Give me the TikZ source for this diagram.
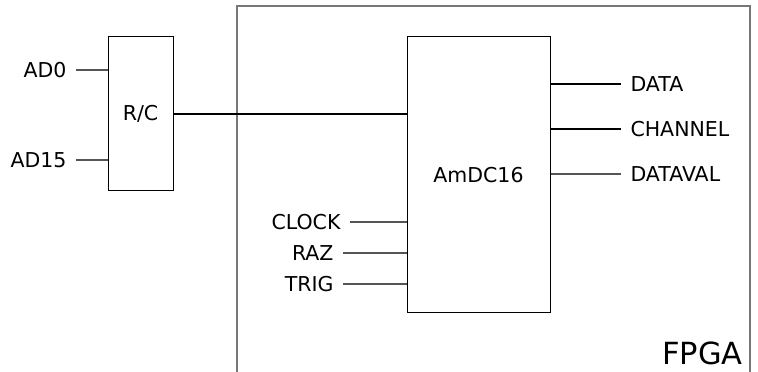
\documentclass[tikz,border=0pt]{standalone}
\usepackage{fontspec}
\setmainfont{DejaVu Sans}
\usetikzlibrary{positioning}
\definecolor{wire}{HTML}{555555}
\definecolor{frame}{HTML}{777777}

\begin{document}
\begin{tikzpicture}[
  x=1pt, y=1pt,
  blk/.style={draw=black, line width=1pt, fill=white, inner sep=0pt,
              font=\fontsize{20.5}{24}\selectfont},
  plab/.style={font=\fontsize{20.5}{24}\selectfont, inner sep=0pt, outer sep=9.5pt},
  thin/.style={draw=wire, line width=1.1pt},
  bus/.style={draw=black, line width=2.4pt}
]
\useasboundingbox (0,0) rectangle (758,372);
\draw[frame, line width=1.2pt] (237,0) -- (237,366) -- (750,366) -- (750,0);
\node[font=\fontsize{30.5}{36}\selectfont, anchor=base east, inner sep=0pt] (fpga) at (743,7) {FPGA};

\node[blk, minimum width=65pt, minimum height=154pt] (rc) at (140.5,258) {R/C};
\node[blk, minimum width=143pt, minimum height=276pt] (amdc) at (478.5,197) {AmDC16};

\node[plab, anchor=east] (ad0)  at (76,302) {AD0};
\node[plab, anchor=east] (ad15) at (76,212) {AD15};
\draw[thin] (ad0.east)  -- (ad0 -| rc.west);
\draw[thin] (ad15.east) -- (ad15 -| rc.west);

\draw[bus] (rc.east) -- (rc.east -| amdc.west);

\node[plab, anchor=east] (clock) at (350,150) {CLOCK};
\node[plab, anchor=east] (raz)   at (343,119) {RAZ};
\node[plab, anchor=east] (trig)  at (343,88)  {TRIG};
\draw[thin] (clock.east) -- (clock -| amdc.west);
\draw[thin] (raz.east)   -- (raz -| amdc.west);
\draw[thin] (trig.east)  -- (trig -| amdc.west);

\node[plab, anchor=west] (data)    at (621,288) {DATA};
\node[plab, anchor=west] (channel) at (621,243) {CHANNEL};
\node[plab, anchor=west] (dataval) at (621,198) {DATAVAL};
\draw[bus]  (data -| amdc.east)    -- (data.west);
\draw[bus]  (channel -| amdc.east) -- (channel.west);
\draw[thin] (dataval -| amdc.east) -- (dataval.west);
\end{tikzpicture}
\end{document}
